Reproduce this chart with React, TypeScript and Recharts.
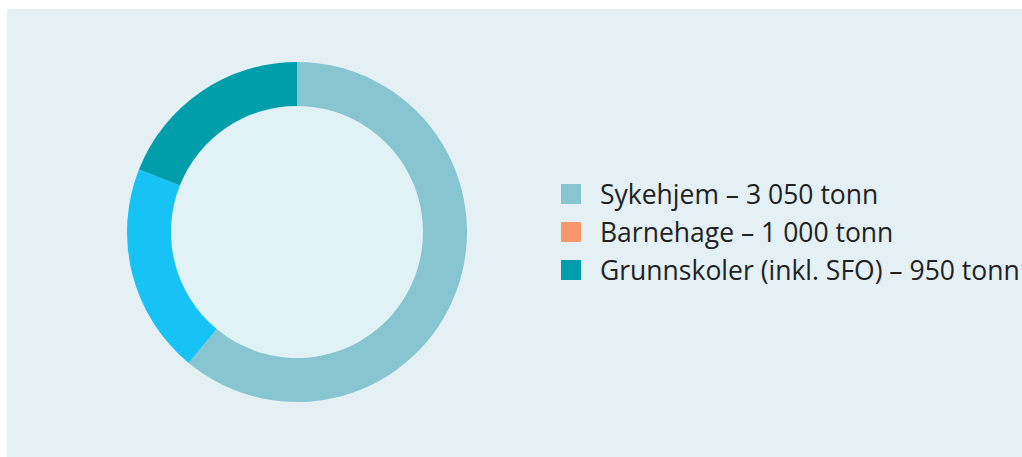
import { Cell, Legend, Pie, PieChart } from "recharts";

const categories = ["Sykehjem", "Barnehage", "Grunnskoler (inkl. SFO)"];
const tonnes = [3050, 1000, 950];
const sliceColors = ["#87c5d0", "#17c2f4", "#009dab"];
const legendColors = ["#87c5d0", "#f7966c", "#009dab"];

const data = categories.map((name, i) => ({ name, value: tonnes[i] }));

const fmt = (n: number) => n.toLocaleString("en-US").replace(/,/g, " ");

function LegendBox() {
  return (
    <div style={{ fontFamily: "'Open Sans', sans-serif", fontSize: 26.5, color: "#222" }}>
      {data.map((d, i) => (
        <div key={d.name} style={{ display: "flex", alignItems: "center", height: 38 }}>
          <span
            style={{ width: 20, height: 20, background: legendColors[i], marginRight: 19, flexShrink: 0 }}
          />
          <span style={{ whiteSpace: "nowrap", lineHeight: "38px" }}>
            {d.name} – {fmt(d.value)} tonn
          </span>
        </div>
      ))}
    </div>
  );
}

export default function App() {
  return (
    <div
      style={{
        position: "fixed",
        left: 7,
        top: 9,
        width: 1015,
        height: 448,
        background: "#e4f0f4",
        overflow: "hidden",
      }}
    >
      <PieChart width={1015} height={448}>
        <Pie
          data={[{ name: "bg", value: 1 }]}
          dataKey="value"
          cx={285}
          cy={218}
          outerRadius={126}
          fill="#e0f2f6"
          stroke="none"
          isAnimationActive={false}
          legendType="none"
        />
        <Pie
          data={data}
          dataKey="value"
          nameKey="name"
          cx={285}
          cy={218}
          innerRadius={126}
          outerRadius={170}
          startAngle={90}
          endAngle={-270}
          stroke="none"
          isAnimationActive={false}
        >
          {data.map((d, i) => (
            <Cell key={d.name} fill={sliceColors[i]} />
          ))}
        </Pie>
        <Legend
          content={() => <LegendBox />}
          wrapperStyle={{ position: "absolute", left: 554, top: 166, width: "auto" }}
        />
      </PieChart>
    </div>
  );
}
